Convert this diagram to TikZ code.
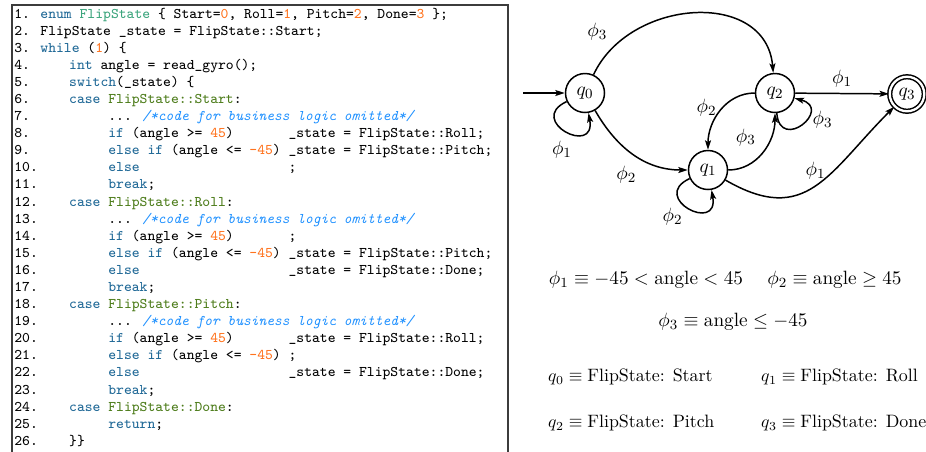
\documentclass[tikz,border=0pt]{standalone}
\usetikzlibrary{arrows.meta}

\definecolor{kwblue}{RGB}{31,104,150}
\definecolor{enumgreen}{RGB}{60,165,125}
\definecolor{casegreen}{RGB}{78,125,28}
\definecolor{numorange}{RGB}{255,115,30}
\definecolor{cmtblue}{RGB}{30,144,255}
\definecolor{framegray}{RGB}{60,60,60}

\newcommand{\kwd}[1]{\textcolor{kwblue}{#1}}
\newcommand{\typ}[1]{\textcolor{enumgreen}{#1}}
\newcommand{\lbl}[1]{\textcolor{casegreen}{#1}}
\newcommand{\lit}[1]{\textcolor{numorange}{#1}}
\newcommand{\cmt}[1]{\textcolor{cmtblue}{\itshape #1}}

\tikzset{
  codeline/.style={anchor=base west, inner sep=0pt,
    font=\ttfamily\fontsize{8.4}{10}\selectfont},
  stnode/.style={circle, draw, line width=0.85pt, minimum size=0.78cm, inner sep=0pt},
  accept/.style={stnode, double, double distance=1.3pt, minimum size=0.69cm},
  trans/.style={line width=0.85pt, -{Stealth[length=1.9mm,width=1.2mm,inset=0.4mm]}},
  statename/.style={anchor=west, font=\fontsize{10.2}{12}\selectfont},
}

\begin{document}
\begin{tikzpicture}[x=0.02cm,y=-0.02cm,font=\fontsize{10.95}{13}\selectfont]
\useasboundingbox (0,0) rectangle (926,451);

% code listing
\draw[framegray, line width=0.85pt] (12,455) |- (508,5) -- (508,455);

\node[codeline] at (14,18)    {1. \kwd{enum} \typ{FlipState} \{ Start=\lit{0}, Roll=\lit{1}, Pitch=\lit{2}, Done=\lit{3} \};};
\node[codeline] at (14,35.1)  {2. FlipState \_state = FlipState::Start;};
\node[codeline] at (14,52.2)  {3. \kwd{while} (\lit{1}) \{};
\node[codeline] at (14,69.3)  {4.~~~~~\kwd{int} angle = read\_gyro();};
\node[codeline] at (14,86.4)  {5.~~~~~\kwd{switch}(\_state) \{};
\node[codeline] at (14,103.5) {6.~~~~~\kwd{case} \lbl{FlipState::Start}:};
\node[codeline] at (14,120.5) {7.~~~~~~~~~~... \cmt{/*code for business logic omitted*/}};
\node[codeline] at (14,137.6) {8.~~~~~~~~~~\kwd{if} (angle >= \lit{45})~~~~~~~\_state = FlipState::Roll;};
\node[codeline] at (14,154.7) {9.~~~~~~~~~~\kwd{else if} (angle <= \lit{-45}) \_state = FlipState::Pitch;};
\node[codeline] at (14,171.8) {10.~~~~~~~~~\kwd{else}~~~~~~~~~~~~~~~~~~~;};
\node[codeline] at (14,188.9) {11.~~~~~~~~~\kwd{break};};
\node[codeline] at (14,206.0) {12.~~~~\kwd{case} \lbl{FlipState::Roll}:};
\node[codeline] at (14,223.1) {13.~~~~~~~~~... \cmt{/*code for business logic omitted*/}};
\node[codeline] at (14,240.2) {14.~~~~~~~~~\kwd{if} (angle >= \lit{45})~~~~~~~;};
\node[codeline] at (14,257.3) {15.~~~~~~~~~\kwd{else if} (angle <= \lit{-45}) \_state = FlipState::Pitch;};
\node[codeline] at (14,274.4) {16.~~~~~~~~~\kwd{else}~~~~~~~~~~~~~~~~~~~\_state = FlipState::Done;};
\node[codeline] at (14,291.4) {17.~~~~~~~~~\kwd{break};};
\node[codeline] at (14,308.5) {18.~~~~\kwd{case} \lbl{FlipState::Pitch}:};
\node[codeline] at (14,325.6) {19.~~~~~~~~~... \cmt{/*code for business logic omitted*/}};
\node[codeline] at (14,342.7) {20.~~~~~~~~~\kwd{if} (angle >= \lit{45})~~~~~~~\_state = FlipState::Roll;};
\node[codeline] at (14,359.8) {21.~~~~~~~~~\kwd{else if} (angle <= \lit{-45}) ;};
\node[codeline] at (14,376.9) {22.~~~~~~~~~\kwd{else}~~~~~~~~~~~~~~~~~~~\_state = FlipState::Done;};
\node[codeline] at (14,394.0) {23.~~~~~~~~~\kwd{break};};
\node[codeline] at (14,411.1) {24.~~~~\kwd{case} \lbl{FlipState::Done}:};
\node[codeline] at (14,428.2) {25.~~~~~~~~~\kwd{return};};
\node[codeline] at (14,445.3) {26.~~~~\}\}};

% automaton
\coordinate (start) at (523,93);
\node[stnode] (q0) at (585,93) {$q_0$};
\node[stnode] (q1) at (708,170) {$q_1$};
\node[stnode] (q2) at (775,93) {$q_2$};
\node[accept] (q3) at (907,94) {$q_3$};

\draw[trans] (start) -- (q0);
\draw[trans] (q0) to[out=205, in=280, min distance=9mm] node[pos=0.45, below=3pt] {$\phi_1$} (q0);
\draw[trans] (q0) to[out=65, in=95, looseness=1.2] node[pos=0.14, above left] {$\phi_3$} (q2);
\draw[trans] (q0) to[out=-60, in=180] node[pos=0.6, below left] {$\phi_2$} (q1);
\draw[trans] (q1) to[out=205, in=280, min distance=9mm] node[pos=0.45, below left, inner sep=1pt] {$\phi_2$} (q1);
\draw[trans] (q2) to[out=180, in=90] node[pos=0.45, left] {$\phi_2$} (q1);
\draw[trans] (q1) to[out=0, in=270] node[pos=0.5, above left] {$\phi_3$} (q2);
\draw[trans] (q2) to[out=-85, in=-15, min distance=8mm] node[pos=0.6, right] {$\phi_3$} (q2);
\draw[trans] (q2) -- node[above] {$\phi_1$} (q3);
\draw[trans] (q1) to[out=-30, in=225, looseness=1.3] node[pos=0.5, above] {$\phi_1$} (q3);

% legend
\node (f1) at (646,280) {$\phi_1 \equiv -45 < \mbox{angle} < 45$};
\node (f2) at (834.5,280) {$\phi_2 \equiv \mbox{angle} \geq 45$};
\node (f3) at (733,322) {$\phi_3 \equiv \mbox{angle} \leq -45$};
\node[statename] (s0) at (542,377) {$q_0 \equiv \mbox{FlipState: Start}$};
\node[statename] (s1) at (755,377) {$q_1 \equiv \mbox{FlipState: Roll}$};
\node[statename] (s2) at (542,423) {$q_2 \equiv \mbox{FlipState: Pitch}$};
\node[statename] (s3) at (755,423) {$q_3 \equiv \mbox{FlipState: Done}$};
\end{tikzpicture}
\end{document}
